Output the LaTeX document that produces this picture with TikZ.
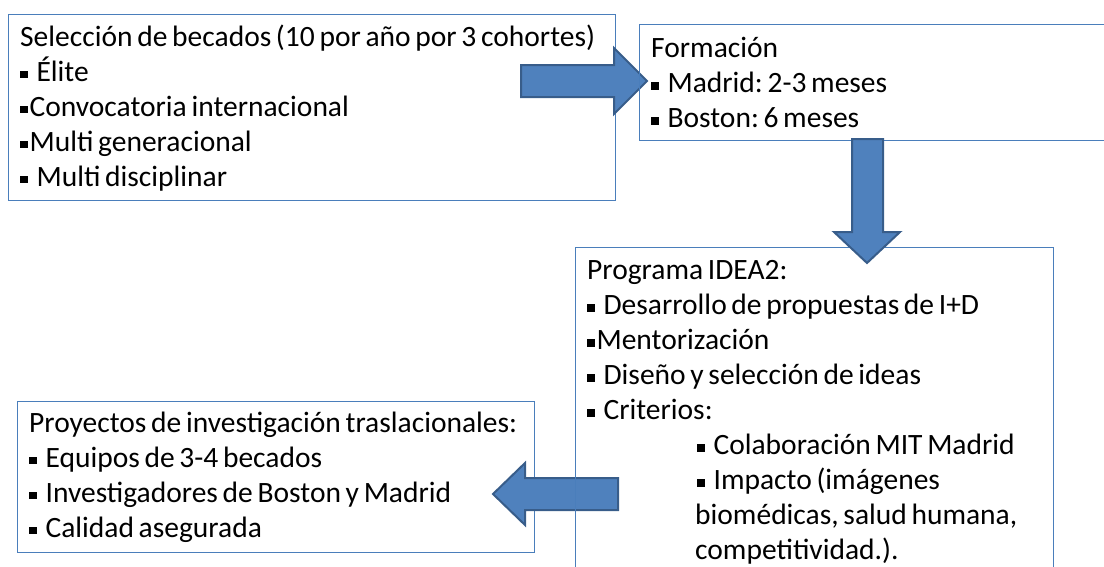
\documentclass[tikz,border=0pt]{standalone}
\usepackage{fontspec}
\setmainfont{Carlito}
\frenchspacing
\definecolor{borde}{HTML}{4A7EBB}
\definecolor{azul}{HTML}{4F81BD}
\definecolor{azuloscuro}{HTML}{385D8A}
\newcommand{\blt}{\rule[0.1em]{0.25em}{0.25em}}
\newcommand{\bltsp}{\blt\hspace{9pt}}
\newcommand{\cajafont}{\fontsize{29.5}{35}\selectfont\spaceskip=4.7pt plus 1pt minus 1pt\relax}

\begin{document}
\begin{tikzpicture}[x=1pt, y=-1pt,
    caja/.style={draw=borde, line width=1.2pt, rectangle, anchor=north west, inner sep=0pt},
    texto/.style={anchor=west, inner xsep=12pt, inner ysep=0pt, align=left, font=\cajafont},
    flecha/.style={fill=azul, draw=azuloscuro, line width=2pt, line join=miter}]
    \useasboundingbox (0,0) rectangle (1104,566);
    \clip (0,0) rectangle (1104,566);
    \node[caja, minimum width=607pt, minimum height=186pt] (seleccion) at (8,14) {};
    \node[texto] (tseleccion) at (seleccion.west) {Selección de becados (10 por año por 3 cohortes)\\
        \bltsp Élite\\
        \blt\hspace{2pt}Convocatoria internacional\\
        \blt\hspace{2pt}Multi generacional\\
        \bltsp Multi disciplinar};
    \node[caja, minimum width=517pt, minimum height=151pt] (proyectos) at (17,401) {};
    \node[texto] (tproyectos) at (proyectos.west) {Proyectos de investigación traslacionales:\\
        \bltsp Equipos de 3-4 becados\\
        \bltsp Investigadores de Boston y Madrid\\
        \bltsp Calidad asegurada};
    % flechas de bloque
    \draw[flecha] (521,65) -- (614,65) -- (614,48) -- (647,81) -- (614,114) -- (614,97) -- (521,97) -- cycle;
    \draw[flecha] (618,478) -- (525,478) -- (525,463) -- (493,494) -- (525,525) -- (525,510) -- (618,510) -- cycle;
    \node[caja, minimum width=481pt, minimum height=116pt] (formacion) at (639,24) {};
    \node[texto] (tformacion) at (formacion.west) {Formación\\
        \bltsp Madrid: 2-3 meses\\
        \bltsp Boston: 6 meses};
    \node[caja, minimum width=478pt, minimum height=330pt] (programa) at (575,247) {};
    \node[texto] (tprograma) at (programa.west) {Programa IDEA2:\\
        \bltsp Desarrollo de propuestas de I+D\\
        \blt\hspace{2pt}Mentorización\\
        \bltsp Diseño y selección de ideas\\
        \bltsp Criterios:\\
        \hspace*{110pt}\bltsp Colaboración MIT Madrid\\
        \hspace*{110pt}\bltsp Impacto (imágenes\\
        \hspace*{108pt}biomédicas, salud humana,\\
        \hspace*{108pt}competitividad.).};
    \draw[flecha] (852,139) -- (852,232) -- (834,232) -- (867,263) -- (900,232) -- (883,232) -- (883,139) -- cycle;
\end{tikzpicture}
\end{document}
